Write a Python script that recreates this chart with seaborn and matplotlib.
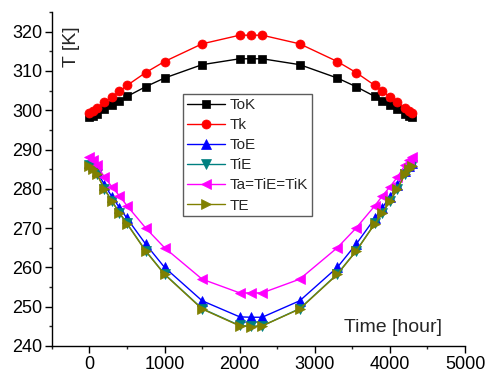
import matplotlib
matplotlib.use("Agg")
import matplotlib.pyplot as plt
import seaborn as sns
import pandas as pd
from matplotlib.ticker import MultipleLocator

time_hour = [0, 50, 100, 200, 300, 400, 500, 750, 1000, 1500, 2000, 2150, 2300,
             2800, 3300, 3550, 3800, 3900, 4000, 4100, 4200, 4250, 4300]
ToK = [298.2, 298.6, 299.1, 300.4, 301.3, 302.4, 303.5, 306.0, 308.2, 311.6, 313.1, 313.1, 313.1,
       311.6, 308.2, 306.0, 303.5, 302.4, 301.3, 300.4, 299.1, 298.6, 298.2]
Tk = [299.3, 299.9, 300.6, 302.1, 303.4, 304.8, 306.3, 309.6, 312.4, 316.9, 319.1, 319.1, 319.1,
      316.9, 312.4, 309.6, 306.3, 304.8, 303.4, 302.1, 300.6, 299.9, 299.3]
ToE = [286.5, 285.8, 284.5, 281.0, 278.0, 275.2, 272.5, 265.9, 260.0, 251.5, 247.4, 247.3, 247.3,
       251.5, 260.0, 265.9, 272.5, 275.2, 278.0, 281.0, 284.5, 285.8, 286.5]
TiE = [286.0, 285.2, 283.8, 280.0, 276.9, 273.9, 271.2, 264.2, 258.3, 249.5, 245.2, 245.0, 245.1,
       249.5, 258.3, 264.2, 271.2, 273.9, 276.9, 280.0, 283.8, 285.2, 286.0]
Ta = [288.1, 287.4, 286.0, 283.0, 280.5, 278.2, 275.7, 270.0, 265.0, 257.0, 253.5, 253.5, 253.5,
      257.0, 265.0, 270.0, 275.7, 278.2, 280.5, 283.0, 286.0, 287.4, 288.1]
TE = [285.9, 285.1, 283.7, 279.9, 276.8, 273.8, 271.1, 264.1, 258.2, 249.4, 245.1, 244.9, 245.1,
      249.4, 258.2, 264.1, 271.1, 273.8, 276.8, 279.9, 283.7, 285.1, 285.9]

series_names = ["ToK", "Tk", "ToE", "TiE", "Ta=TiE=TiK", "TE"]
series_values = [ToK, Tk, ToE, TiE, Ta, TE]
colors = ["#000000", "#FF0000", "#0000FF", "#008080", "#FF00FF", "#808000"]
markers = ["s", "o", "^", "v", "<", ">"]
msizes = [5.5, 6.5, 6.5, 6.5, 6.5, 6.5]

sns.set_style("ticks")
plt.rcParams["font.family"] = ["Liberation Sans", "DejaVu Sans"]

fig = plt.figure(figsize=(4.89, 3.76), dpi=100)
ax = fig.add_axes([0.106, 0.080, 0.845, 0.888])

for name, vals, c, m, ms in zip(series_names, series_values, colors, markers, msizes):
    df = pd.DataFrame({"t": time_hour, "v": vals})
    sns.lineplot(data=df, x="t", y="v", ax=ax, color=c, marker=m, markersize=ms,
                 markeredgecolor=c, markeredgewidth=0.5, linewidth=1.0, label=name)

ax.set_xlim(-500, 5000)
ax.set_ylim(240, 325)
ax.xaxis.set_major_locator(MultipleLocator(1000))
ax.xaxis.set_minor_locator(MultipleLocator(500))
ax.yaxis.set_major_locator(MultipleLocator(10))
ax.yaxis.set_minor_locator(MultipleLocator(5))
ax.tick_params(axis="both", which="major", length=5, width=1, direction="out",
               labelsize=13, colors="black", pad=2)
ax.tick_params(axis="both", which="minor", length=2.5, width=1, direction="out")
for s in ["top", "right"]:
    ax.spines[s].set_visible(False)
for s in ["left", "bottom"]:
    ax.spines[s].set_linewidth(1.0)
    ax.spines[s].set_color("black")

ax.set_xlabel("Time [hour]", fontsize=14)
ax.xaxis.set_label_coords(0.826, 0.055)
ax.xaxis.label.set_verticalalignment("center")
ax.set_ylabel("T [K]", fontsize=14)
ax.yaxis.set_label_coords(0.048, 0.895)
ax.yaxis.label.set_verticalalignment("center")

leg = ax.legend(loc="upper left", bbox_to_anchor=(0.317, 0.754), fontsize=11,
                frameon=True, fancybox=False, handlelength=2.5, handletextpad=0.33,
                labelspacing=0.4, borderpad=0.25, borderaxespad=0)
leg.get_frame().set_edgecolor("#333333")
leg.get_frame().set_linewidth(1.0)

fig.savefig("out.png", dpi=100)
